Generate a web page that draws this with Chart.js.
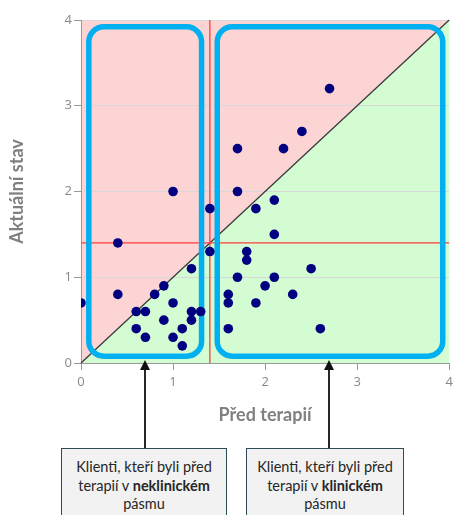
<!DOCTYPE html>
<html>
<head>
<meta charset="utf-8">
<script src="https://cdn.jsdelivr.net/npm/chart.js@4/dist/chart.umd.min.js"></script>
<style>
  html, body { margin: 0; padding: 0; background: #fff; overflow: hidden; }
  #wrap { position: relative; width: 454px; height: 515px; }
  .note {
    position: absolute; top: 448px; height: 80px;
    box-sizing: border-box; border: 1.5px solid #2e4b5a; background: #f2f2f2;
    font-family: Lato, "Noto Sans", sans-serif; font-size: 14.5px; line-height: 18.5px;
    color: #262626; text-align: center; padding-top: 9px;
  }
</style>
</head>
<body>
<div id="wrap">
  <canvas id="myChart" width="454" height="515"></canvas>
  <div class="note" style="left:61px; width:166px;">Klienti, kteří byli před<br>terapií v <b>neklinickém</b><br>pásmu</div>
  <div class="note" style="left:246px; width:158px;">Klienti, kteří byli před<br>terapií v <b>klinickém</b><br>pásmu</div>
</div>
<script>
// Před terapií (x) a Aktuální stav (y)
var predTerapii = [1.0, 1.7, 1.7, 2.2, 2.4, 2.7, 2.1, 1.9, 1.4, 0.4, 1.4, 1.8, 1.8, 1.2, 1.7, 0.9, 0.4, 0.8, 1.6, 0.0, 1.0,
                   1.6, 1.9, 0.6, 0.7, 1.2, 1.3, 0.9, 1.2, 0.6, 1.1, 1.6, 0.7, 1.0, 1.1, 2.1, 2.5, 2.1, 2.0, 2.3, 2.6];
var aktualniStav = [2.0, 2.0, 2.5, 2.5, 2.7, 3.2, 1.9, 1.8, 1.8, 1.4, 1.3, 1.3, 1.2, 1.1, 1.0, 0.9, 0.8, 0.8, 0.8, 0.7, 0.7,
                    0.7, 0.7, 0.6, 0.6, 0.6, 0.6, 0.5, 0.5, 0.4, 0.4, 0.4, 0.3, 0.3, 0.2, 1.5, 1.1, 1.0, 0.9, 0.8, 0.4];
var hranice = 1.4; // klinická hranice
var osaTicks = [0, 1, 2, 3, 4];

var body = predTerapii.map(function (x, i) { return { x: x, y: aktualniStav[i] }; });

// pozadí, hranice a modré rámečky
var pozadiPlugin = {
    id: 'pozadi',
    beforeDraw: function (chart) {
        var a = chart.chartArea, c = chart.ctx;
        c.save();
        c.fillStyle = '#fdd4d4';
        c.beginPath(); c.moveTo(a.left, a.bottom); c.lineTo(a.right, a.top); c.lineTo(a.left, a.top); c.closePath(); c.fill();
        c.fillStyle = '#d4fcd2';
        c.beginPath(); c.moveTo(a.left, a.bottom); c.lineTo(a.right, a.top); c.lineTo(a.right, a.bottom); c.closePath(); c.fill();
        c.restore();
    },
    beforeDatasetsDraw: function (chart) {
        var a = chart.chartArea, c = chart.ctx;
        var sx = chart.scales.x, sy = chart.scales.y;
        c.save();
        // diagonala
        c.strokeStyle = '#3a3a3a'; c.lineWidth = 1.3;
        c.beginPath(); c.moveTo(sx.getPixelForValue(0), sy.getPixelForValue(0));
        c.lineTo(sx.getPixelForValue(4), sy.getPixelForValue(4)); c.stroke();
        // cervene hranice
        c.strokeStyle = '#ff3b3b'; c.lineWidth = 1.3;
        c.beginPath();
        c.moveTo(sx.getPixelForValue(hranice), a.top); c.lineTo(sx.getPixelForValue(hranice), a.bottom);
        c.moveTo(a.left, sy.getPixelForValue(hranice)); c.lineTo(a.right, sy.getPixelForValue(hranice));
        c.stroke();
        // modre ramecky
        c.strokeStyle = '#00b0f0'; c.lineWidth = 5.5;
        [[0.085, 1.31], [1.48, 3.93]].forEach(function (r) {
            var x1 = sx.getPixelForValue(r[0]), x2 = sx.getPixelForValue(r[1]);
            var y1 = sy.getPixelForValue(3.92), y2 = sy.getPixelForValue(0.08);
            c.beginPath(); c.roundRect(x1, y1, x2 - x1, y2 - y1, 15); c.stroke();
        });
        c.restore();
    },
    afterDraw: function (chart) {
        var c = chart.ctx, sx = chart.scales.x, a = chart.chartArea;
        c.save();
        c.strokeStyle = '#111'; c.fillStyle = '#111'; c.lineWidth = 1.8;
        [0.69, 2.69].forEach(function (v) {
            var x = Math.round(sx.getPixelForValue(v));
            var tip = a.bottom - 3;
            c.beginPath(); c.moveTo(x, tip + 8); c.lineTo(x, 449); c.stroke();
            c.beginPath(); c.moveTo(x, tip); c.lineTo(x - 5, tip + 10); c.lineTo(x + 5, tip + 10); c.closePath(); c.fill();
        });
        c.restore();
    }
};

var ctx = document.getElementById("myChart").getContext('2d');
var myChart = new Chart(ctx, {
    type: 'scatter',
    data: {
        datasets: [{
            data: body,
            backgroundColor: '#000080',
            borderWidth: 0,
            pointRadius: 4.8,
            pointHoverRadius: 4.8
        }]
    },
    options: {
        responsive: false,
        animation: false,
        events: [],
        layout: { padding: { left: 0, right: 3, top: 20, bottom: 85 } },
        plugins: { legend: { display: false }, tooltip: { enabled: false } },
        scales: {
            x: {
                min: 0, max: 4,
                afterBuildTicks: function (s) { s.ticks = osaTicks.map(function (v) { return { value: v }; }); },
                afterFit: function (s) { s.height = 67; s.paddingLeft = 0; s.paddingRight = 0; },
                grid: { drawOnChartArea: false, tickLength: 7, tickColor: '#999' },
                border: { color: '#999' },
                ticks: { color: '#888', padding: 4, font: { family: 'Open Sans', size: 13 } },
                title: { display: true, text: 'Před terapií', color: '#808080', padding: { top: 4, bottom: 4 },
                         font: { family: 'Lato', size: 18, weight: 'bold' } }
            },
            y: {
                min: 0, max: 4,
                afterBuildTicks: function (s) { s.ticks = osaTicks.map(function (v) { return { value: v }; }); },
                afterFit: function (s) { s.width = 81; s.paddingTop = 0; s.paddingBottom = 0; },
                grid: { color: '#d8d8d8', tickLength: 7, tickColor: '#999' },
                border: { color: '#999' },
                ticks: { color: '#888', padding: 2, font: { family: 'Open Sans', size: 13 } },
                title: { display: true, text: 'Aktuální stav', color: '#808080', padding: { top: 6, bottom: 6 },
                         font: { family: 'Lato', size: 18, weight: 'bold' } }
            }
        }
    },
    plugins: [pozadiPlugin]
});
</script>
</body>
</html>
